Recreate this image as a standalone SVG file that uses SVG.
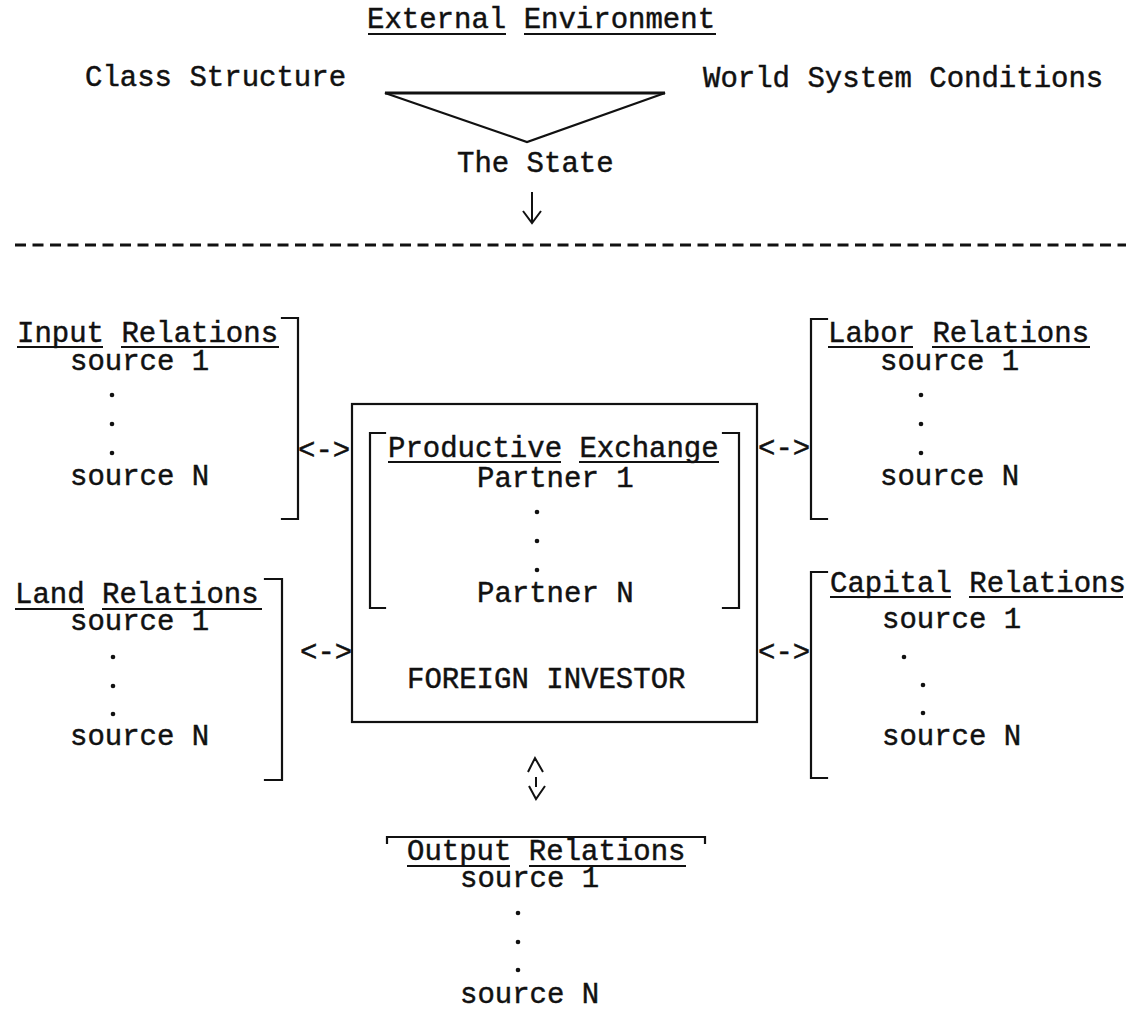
<svg xmlns="http://www.w3.org/2000/svg" width="1137" height="1014" viewBox="0 0 1137 1014">
<style>
text{font-family:"Liberation Mono","DejaVu Sans Mono",monospace;font-size:29px;fill:#111;stroke:#111;stroke-width:0.45;}
.ln{fill:none;stroke:#111;stroke-width:2.2;stroke-linecap:square;}
.ul{fill:none;stroke:#111;stroke-width:2;}
.dot{fill:#111;}
</style>
<rect width="1137" height="1014" fill="#fff"/>
<g id="external-environment">
<text x="367" y="28">External Environment</text>
<path class="ul" d="M368,34H506M524,34H716"/>
</g>
<g id="class-structure"><text x="85" y="86">Class Structure</text></g>
<g id="world-system"><text x="703" y="87">World System Conditions</text></g>
<g id="the-state">
<polygon class="ln" points="385,93 665,93 527,142"/>
<path d="M385,93H665" fill="none" stroke="#111" stroke-width="3"/>
<text x="457" y="172">The State</text>
</g>
<g id="divider">
<line x1="15" y1="245" x2="1126" y2="245" stroke="#111" stroke-width="3" stroke-dasharray="11 6.5"/>
</g>
<g id="input-relations">
<text x="17" y="342">Input Relations</text>
<path class="ul" d="M17,347H103M121,347H279"/>
<text x="70" y="370">source 1</text>
<circle class="dot" cx="112" cy="395" r="2.3"/><circle class="dot" cx="112" cy="424" r="2.3"/><circle class="dot" cx="112" cy="453" r="2.3"/>
<text x="70" y="485">source N</text>
<path class="ln" d="M282,318H298V519H282"/>
</g>
<g id="labor-relations">
<text x="828" y="342">Labor Relations</text>
<path class="ul" d="M828,347H913M932,347H1090"/>
<text x="880" y="370">source 1</text>
<circle class="dot" cx="921" cy="395" r="2.3"/><circle class="dot" cx="921" cy="424" r="2.3"/><circle class="dot" cx="921" cy="453" r="2.3"/>
<text x="880" y="485">source N</text>
<path class="ln" d="M827,319H811V519H827"/>
</g>
<g id="foreign-investor">
<rect class="ln" x="352" y="404" width="405" height="318"/>
<path class="ln" d="M385,433H370V608H385M723,433H739V608H723"/>
<text x="388" y="457">Productive Exchange</text>
<path class="ul" d="M388,462H561M579,462H719"/>
<text x="477" y="487">Partner 1</text>
<circle class="dot" cx="537" cy="512" r="2.3"/><circle class="dot" cx="537" cy="541" r="2.3"/><circle class="dot" cx="537" cy="570" r="2.3"/>
<text x="477" y="602">Partner N</text>
<text x="407" y="688">FOREIGN INVESTOR</text>
</g>
<g id="land-relations">
<text x="15" y="603">Land Relations</text>
<path class="ul" d="M15,609H84M102,609H262"/>
<text x="70" y="630">source 1</text>
<circle class="dot" cx="113" cy="657" r="2.3"/><circle class="dot" cx="113" cy="686" r="2.3"/><circle class="dot" cx="113" cy="714" r="2.3"/>
<text x="70" y="745">source N</text>
<path class="ln" d="M265,579H282V780H265"/>
</g>
<g id="capital-relations">
<text x="830" y="592">Capital Relations</text>
<path class="ul" d="M830,597H951M969,597H1123"/>
<text x="882" y="628">source 1</text>
<circle class="dot" cx="904" cy="657" r="2.3"/><circle class="dot" cx="923" cy="685" r="2.3"/><circle class="dot" cx="923" cy="713" r="2.3"/>
<text x="882" y="745">source N</text>
<path class="ln" d="M827,572H811V778H827"/>
</g>
<g id="output-relations">
<path class="ln" d="M387,843V837H705V843"/>
<text x="407" y="860">Output Relations</text>
<path class="ul" d="M407,866H510M529,866H686"/>
<text x="460" y="887">source 1</text>
<circle class="dot" cx="518" cy="913" r="2.3"/><circle class="dot" cx="518" cy="942" r="2.3"/><circle class="dot" cx="518" cy="970" r="2.3"/>
<text x="460" y="1003">source N</text>
</g>
<g id="connectors">
<path d="M532,192V223M523,211L532,223L541,211" fill="none" stroke="#111" stroke-width="2"/>
<text x="298" y="459">&lt;-&gt;</text>
<text x="758" y="457">&lt;-&gt;</text>
<text x="300" y="661">&lt;-&gt;</text>
<text x="758" y="661">&lt;-&gt;</text>
<path d="M528,772L535,758L543,772M536,777V787M529,786L536,799L545,786" fill="none" stroke="#111" stroke-width="2"/>
</g>
</svg>
